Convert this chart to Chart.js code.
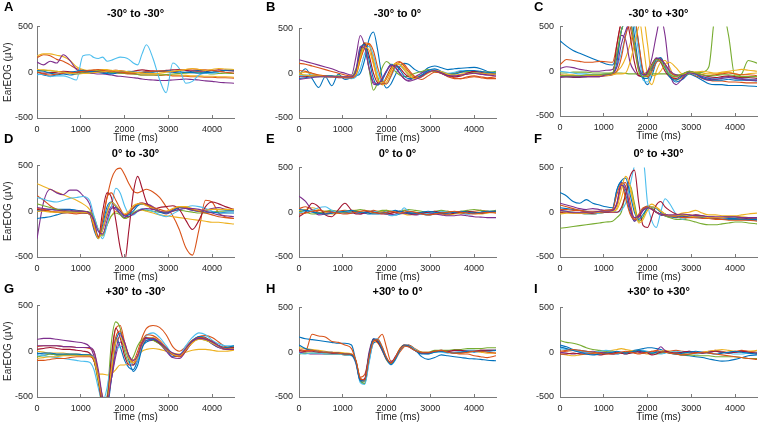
<!DOCTYPE html>
<html><head><meta charset="utf-8">
<script src="https://cdn.jsdelivr.net/npm/chart.js@4/dist/chart.umd.min.js"></script>
<style>
body{margin:0;background:#fff;}
#wrap{position:relative;width:758px;height:428px;overflow:hidden;font-family:'Liberation Sans',Arial,sans-serif;background:#fff;}
#wrap canvas{position:absolute;}
.ttl{position:absolute;font-weight:bold;font-size:11px;color:#000;white-space:nowrap;transform:translate(-50%,-50%);}
.lt{position:absolute;font-weight:bold;font-size:13px;color:#000;transform:translateY(-50%);}
</style></head><body><div id="wrap"></div>
<script>
// ---- data ----
const TIME = [0,150,300,450,600,750,900,1050,1200, 1300,1400,1500,1600,1700,1800,1900,2000,2100,2200,2300,2400,2500, 2650,2800,2950,3100,3250,3400,3550,3700,3850,4000,4150,4300,4500];
const X_TICKS = [0,1000,2000,3000,4000];
const Y_TICKS = [-500,0,500];
const TITLES = ['-30° to -30°','-30° to 0°','-30° to +30°','0° to -30°','0° to 0°','0° to +30°','+30° to -30°','+30° to 0°','+30° to +30°'];
const LETTERS = ['A','B','C','D','E','F','G','H','I'];
const X_LABEL = 'Time (ms)';
const Y_LABEL = 'EarEOG (µV)';

const panelA = [
 [-20,-30,-45,-30,-20,-30,-20,-10,0, 0,10,5,0,-10,-5,0,5,0,-10,-5,0,5, 0,10,5,0,-10,0,10,20,10,0,5,20,15],
 [160,190,180,140,120,80,40,20,10, 10,15,20,10,0,-5,-10,-15,-20,-20,-25,-30,-30, -30,-35,-30,-40,-40,-45,-50,-50,-55,-55,-60,-60,-65],
 [180,200,200,185,170,130,60,30,20, 20,25,30,30,20,15,10,5,0,0,-5,-10,-10, -15,-20,-25,-30,-30,-35,-40,-40,-45,-45,-50,-50,-55],
 [110,80,120,100,190,130,30,0,-10, -15,-20,-20,-25,-30,-40,-45,-50,-55,-60,-65,-75,-80, -85,-90,-90,-85,-80,-75,-80,-85,-95,-100,-110,-115,-120],
 [10,20,15,10,0,-10,-5,0,5, 10,15,10,5,0,-5,-10,-10,-15,-20,-25,-30,-30, -30,-30,-25,-20,-15,-10,-5,0,-10,-20,-15,-10,-15],
 [-30,-20,-50,-40,-40,-60,-85,180,190, 160,150,165,120,130,150,165,160,140,100,80,200,300, 150,-80,-225,100,40,-120,-100,-30,-10,-10,0,20,20],
 [0,-10,-5,0,10,5,0,10,15, 10,5,0,10,15,20,15,10,5,10,20,25,20, 15,10,20,25,30,20,15,10,15,20,25,20,15],
 [20,10,-10,-20,-10,0,10,20,10, 5,0,-10,-15,-20,-10,0,5,10,5,0,-5,0, 5,10,15,10,5,0,-5,-10,-5,0,10,20,25],
 [0,-20,-30,-20,-10,-5,0,10,20, 25,30,20,15,10,5,0,-5,-10,-10,-5,0,5, 10,15,10,5,20,30,35,30,25,20,10,0,-10],
 [30,25,20,10,0,-10,-20,-15,-10, -5,0,5,10,15,20,15,10,5,0,-5,-10,-15, -20,-10,0,10,20,30,40,30,20,30,40,35,30]
];
const panelB = [
 [-20,50,-60,-160,-40,-140,-10,-70,-50, -30,0,150,380,460,250,-50,-165,-120,-20,70,110,100, 40,10,60,80,60,40,50,55,60,65,50,20,0],
 [110,100,80,60,40,20,0,-20,-30, 0,200,340,320,120,-80,-120,-60,30,110,130,80,20, -50,-40,20,40,0,-30,-50,-60,-40,-30,-40,-50,-40],
 [0,10,-10,-20,-30,-30,-40,-40,-40, -20,150,300,330,150,-50,-130,-100,0,80,100,60,0, -40,-20,10,30,10,-10,-20,-10,0,10,20,10,0],
 [150,130,110,90,70,50,20,0,-20, 180,420,300,50,-120,-130,-60,20,80,60,0,-60,-80, -40,0,30,20,0,-20,0,20,10,0,-10,-20,-10],
 [-20,-30,-30,-40,-40,-40,-30,-40,-40, 50,200,340,50,-190,-100,60,130,90,20,-20,-40,-30, 0,20,40,20,0,-10,0,10,20,10,0,10,20],
 [-30,-20,-20,-30,-40,-40,-40,-50,-60, -40,50,220,300,200,0,-100,-120,-40,60,80,40,-20, -60,-30,20,40,20,0,10,30,30,20,10,0,10],
 [-40,-40,-30,-30,-40,-40,-50,-50,-50, 0,250,330,200,0,-110,-120,-40,60,90,60,0,-40, -50,-30,10,30,10,-20,-40,-30,0,20,10,-10,0],
 [-60,-50,-40,-40,-30,-30,-40,-40,-40, 20,280,320,150,-60,-130,-80,20,100,90,40,-30,-60, -60,-20,30,50,20,-10,-10,10,30,30,20,10,0],
 [30,20,0,-20,-30,-40,-40,-50,-50, -20,150,280,330,250,60,-90,-120,-30,80,120,100,40, -40,-70,-30,10,0,-40,-60,-60,-50,-40,-50,-60,-60],
 [-10,-20,-30,-30,-40,-40,-40,-40,-40, -10,180,290,260,100,-80,-110,-50,40,110,100,40,-20, -60,-40,0,30,20,-10,-20,-20,-10,0,0,-10,-10],
 [-70,-60,-50,-40,-40,-40,-40,-40,-40, 30,300,280,60,-100,-120,-60,30,90,70,0,-60,-90, -70,-40,10,30,0,-30,-30,-20,-10,0,-10,-20,-30]
];
const panelC = [
 [340,280,230,200,170,140,110,80,70, 200,450,600,700,600,300,-50,-150,-50,100,150,60,-50, -120,-90,-30,-60,-100,-140,-150,-150,-160,-160,-160,-165,-170],
 [70,130,120,110,100,100,110,105,100, 300,550,650,500,250,0,-60,-50,40,130,140,60,-40, -90,-70,-20,-50,-80,-100,-110,-110,-120,-120,-125,-130,-130],
 [-60,-60,-60,-60,-60,-50,-40,-30,-20, 0,50,150,300,500,600,300,-50,-150,0,100,120,50, -100,-60,-20,-10,-20,-30,-30,-20,-10,-30,-40,-30,-20],
 [30,50,40,20,10,0,0,10,20, 150,400,350,100,0,-50,-30,0,150,400,600,400,0, -150,-80,0,-30,-80,-100,-90,-70,-60,-70,-80,-90,-100],
 [-20,-20,-10,-10,-10,-20,-20,-20,-20, -20,-20,-25,-30,-30,-30,-30,-30,-30,-30,-30,-30,-30, -40,-40,-30,-20,-10,50,650,700,400,-60,-30,120,90],
 [0,-10,-20,-30,-30,-40,-40,-30,-30, 50,200,400,600,500,200,-100,-120,0,100,120,50,-30, -60,-40,-20,-40,-60,-70,-80,-80,-70,-80,-90,-90,-90],
 [-60,-60,-70,-70,-60,-60,-60,-50,-40, 300,550,600,400,100,-50,-60,-20,80,140,100,0,-60, -80,-40,-10,-20,-40,-60,-70,-60,-50,-60,-70,-70,-80],
 [-50,-60,-60,-60,-60,-50,-50,-40,-30, 100,450,550,650,400,50,-80,-80,20,130,150,40,-60, -100,-50,-10,-30,-70,-90,-100,-100,-90,-100,-100,-100,-110],
 [-40,-50,-50,-50,-50,-50,-50,-40,-30, 0,150,400,550,600,300,0,-60,0,100,120,80,0, -50,-30,0,-20,-40,-50,-40,-30,-20,-30,-40,-40,-50],
 [-50,-40,-40,-50,-50,-50,-50,-50,-40, -30,-30,-20,100,300,500,600,300,-50,-40,0,80,100, 40,-30,-20,-10,0,-10,-20,-10,0,10,20,10,0],
 [-70,-60,-60,-60,-60,-60,-60,-40,-20, 50,300,450,550,300,50,-40,-30,60,150,130,80,10, -40,-50,-20,-30,-60,-80,-90,-80,-70,-80,-90,-100,-100],
 [-50,-50,-50,-50,-40,-40,-40,-30,-20, 200,450,550,550,300,0,-60,-40,60,130,110,30,-40, -60,-30,0,-20,-40,-50,-50,-40,-40,-50,-60,-60,-60]
];
const panelD = [
 [10,10,20,20,20,20,10,0,-20, -100,-280,-200,0,100,50,-30,-70,-30,30,70,80,70, 40,0,-20,10,40,30,10,0,10,20,20,10,10],
 [170,120,60,20,0,-20,-30,-20,-30, -150,-280,-100,150,350,450,470,400,300,220,200,220,240, 210,150,50,-50,-200,-400,-480,-200,120,100,-20,-60,-80],
 [300,270,240,210,180,150,120,80,20, -80,-200,-250,-150,-50,0,-30,-80,-60,-20,0,10,0, -20,-40,-50,-60,-70,-80,-90,-100,-110,-120,-120,-130,-140],
 [-300,100,240,200,180,230,230,170,80, -100,-280,-200,-50,50,20,-30,-70,-20,40,80,90,80, 50,0,-30,0,40,30,10,0,10,30,40,20,10],
 [80,60,40,20,10,0,0,0,-10, -60,-200,-270,-150,-50,-20,-40,-80,-60,-20,10,20,10, 0,-10,-10,0,10,0,-10,-20,-20,-10,0,0,0],
 [150,130,110,100,120,140,150,160,120, -50,-200,-300,-150,50,250,200,60,-30,-40,0,30,20, 0,-40,-60,-30,10,40,60,50,30,0,-20,-10,0],
 [20,10,0,-10,-10,-10,0,0,-20, -150,-290,0,200,150,-100,-400,-550,-200,200,380,250,100, 20,40,50,60,20,-100,-200,-100,50,100,80,50,20],
 [-80,-70,-60,-40,-20,-10,-10,-20,-30, -200,-300,-150,50,100,60,0,-50,-40,0,60,80,70, 30,-10,-20,10,40,40,20,0,-10,-10,-20,-20,-20],
 [30,20,0,-10,-20,-20,-20,-20,-30, -180,-290,-100,150,200,120,30,-40,-20,40,80,90,70, 40,20,0,20,50,40,20,0,-20,-40,-60,-70,-80],
 [0,0,-10,-10,-10,-10,-10,-10,-20, -150,-300,-200,-20,100,60,10,-30,0,60,80,80,60, 30,0,0,30,50,50,30,10,10,20,20,20,20],
 [40,30,20,10,10,10,0,0,-20, -100,-220,-250,-100,30,40,0,-50,-60,-30,0,20,30, 20,0,-10,0,20,30,30,20,0,-20,-40,-50,-60]
];
const panelE = [
 [0,20,10,-10,0,10,0,-10,0, 10,0,-10,-20,-10,0,10,0,-20,-30,-20,-10,0, -10,-20,-30,-20,-10,0,0,-10,-20,-10,0,10,0],
 [40,60,30,0,-20,-10,10,20,10, 0,-10,0,10,20,10,0,-10,-10,0,10,20,10, 0,-10,-20,-10,0,10,0,-10,0,10,20,10,0],
 [20,30,50,30,0,-20,-10,10,20, 20,10,0,-10,-10,0,10,20,10,0,-10,-20,-30, -20,-10,0,-10,-20,-30,-20,-10,0,-10,-20,-10,0],
 [180,120,20,-30,-20,0,10,0,-10, -10,-20,-10,0,10,0,-10,-20,-30,-20,-10,-10,-20, -30,-20,-10,-20,-30,-40,-40,-30,-40,-50,-55,-60,-60],
 [10,0,-20,-10,10,20,10,0,10, 20,30,20,10,0,10,20,20,10,0,10,20,30, 20,10,0,10,20,10,0,10,20,30,20,10,20],
 [-10,10,20,50,60,20,0,10,0, -10,-10,0,10,10,0,-10,-20,-40,-30,-10,50,10, -10,-20,-10,0,10,0,-10,0,10,0,-10,0,10],
 [-50,0,100,60,-30,-50,30,100,20, -20,-20,0,10,0,-10,-20,-20,-10,0,10,0,-10, -20,-10,0,10,-10,-20,-10,0,10,0,-10,0,10],
 [30,20,0,-10,-20,-10,0,10,20, 10,0,0,-10,-20,-20,-10,0,10,20,10,0,-10, -10,0,10,0,-10,-10,0,10,0,-10,0,10,10],
 [-20,-10,10,20,10,0,-10,-20,-10, 0,10,20,10,0,-10,-10,0,10,0,-10,0,10, 0,-20,-30,-20,-10,0,10,0,-10,-20,-10,0,-10]
];
const panelF = [
 [50,40,30,20,10,0,10,20,30, 250,340,200,0,-100,-40,40,70,40,0,-30,-40,-50, -60,-40,-50,-60,-60,-70,-70,-80,-80,-80,-80,-90,-90],
 [80,60,40,20,0,-20,-10,0,20, 80,300,330,120,-80,-60,30,70,40,0,-20,-30,-40, -40,-30,-30,-40,-50,-50,-60,-60,-60,-70,-70,-80,-80],
 [0,10,0,-10,-20,-20,-10,0,10, 30,150,300,250,50,-100,-50,50,90,60,20,-20,-40, -30,-10,0,20,-10,-30,-30,-40,-40,-40,-30,-20,-10],
 [100,80,60,40,30,40,30,20,20, 100,330,280,50,-100,-50,20,60,40,0,-30,-40,-50, -50,-50,-40,-40,-50,-50,-60,-60,-60,-60,-60,-70,-70],
 [-180,-170,-160,-150,-140,-130,-120,-110,-100, -60,0,200,300,100,-100,-50,60,50,0,-20,-40,-60, -80,-80,-90,-110,-130,-140,-140,-130,-120,-110,-110,-120,-130],
 [20,10,0,-10,-20,-20,-10,0,10, 0,20,100,300,520,650,600,100,-100,-170,0,150,100, -20,-80,-50,-30,-40,-50,-60,-60,-50,-60,-60,-60,-60],
 [0,0,-10,-10,-10,-10,0,0,0, 0,50,200,400,470,100,-150,-170,-50,80,120,60,20, -20,-40,-40,-30,-40,-60,-70,-60,-50,-50,-60,-70,-60],
 [220,180,120,100,140,100,80,60,50, 250,350,380,200,0,-80,-20,40,60,40,0,-20,-40, -50,-40,-40,-50,-50,-60,-60,-60,-70,-70,-80,-80,-80],
 [30,30,20,20,10,10,10,20,30, 200,320,150,-20,-80,-20,50,60,30,0,-20,-30,-40, -50,-60,-60,-60,-70,-70,-80,-80,-90,-90,-90,-90,-100],
 [-20,-10,-10,-10,-10,0,0,10,10, 50,250,400,300,50,-120,-80,20,60,50,10,-20,-40, -40,-30,-40,-50,-50,-60,-60,-60,-50,-50,-50,-60,-60],
 [20,10,0,0,0,0,10,10,20, 100,300,250,50,-60,-40,20,50,30,0,-20,-30,-30, -30,-20,-30,-40,-40,-50,-50,-50,-50,-50,-60,-60,-60]
];
const panelG = [
 [-20,-30,-30,-40,-40,-40,-40,-50,-50, -100,-300,-550,-600,-200,150,50,-100,-180,-200,-100,50,100, 120,80,20,-60,-50,30,120,150,130,80,40,30,50],
 [50,60,60,60,50,50,40,40,30, 0,-250,-500,-550,-100,250,280,100,-50,-100,0,150,250, 280,260,180,50,0,50,120,160,170,150,100,50,40],
 [0,-10,-20,-20,-20,-30,-30,-40,-40, -100,-250,-250,-260,-250,-200,-150,-150,-130,-100,-50,0,20, 30,20,0,-20,-30,-10,10,20,20,10,0,0,10],
 [130,140,140,130,120,110,100,90,50, -50,-300,-550,-500,-300,-50,100,50,-50,-150,-100,50,120, 120,80,0,-70,-80,0,100,150,130,80,40,20,30],
 [-60,-50,-30,-40,-40,-40,-40,-40,-50, -100,-350,-600,-500,100,320,250,0,-120,-60,60,130,150, 120,80,20,-30,-40,20,100,130,120,90,60,40,50],
 [-40,-50,-60,-70,-80,-90,-100,-110,-120, -200,-400,-550,-400,-100,0,50,50,-50,-150,-100,80,170, 200,150,60,-30,-40,60,150,200,180,120,80,60,60],
 [20,30,40,30,20,20,10,0,-20, -100,-300,-600,-550,-50,250,150,-50,-150,-150,-50,100,150, 130,90,30,-40,-60,10,100,150,140,110,60,30,40],
 [-30,-20,-20,-30,-30,-30,-30,-40,-40, -80,-300,-550,-600,-300,100,200,50,-100,-220,-150,30,120, 130,100,40,-30,-50,20,110,160,150,100,60,40,60],
 [-100,-100,-90,-80,-80,-70,-60,-60,-60, -100,-300,-550,-550,-250,150,220,80,-60,-120,-50,100,180, 170,120,40,-40,-60,10,100,150,140,100,60,30,20],
 [-80,-70,-60,-60,-50,-50,-50,-50,-50, -80,-300,-500,-550,-200,100,150,50,-80,-130,-60,70,140, 150,110,30,-30,-50,20,90,130,120,90,50,20,30],
 [60,60,60,60,50,50,40,40,40, 0,-200,-500,-550,-300,0,180,100,-50,-100,-50,80,140, 140,100,30,-20,-40,30,110,140,130,100,60,20,20]
];
const panelH = [
 [170,150,140,130,120,110,100,100,80, -100,-300,-350,-100,100,120,50,-80,-120,-60,20,70,80, 30,-50,-80,-60,-30,-40,-50,-60,-70,-75,-80,-90,-95],
 [0,10,200,180,170,120,110,80,40, -100,-280,-250,-50,120,150,200,50,-100,-80,0,60,80, 40,0,-10,10,20,0,-10,-20,-20,-40,-50,-60,-40],
 [50,40,30,20,10,0,0,-10,-20, -100,-300,-330,-50,130,100,20,-90,-130,-60,40,80,70, 30,0,-10,0,10,0,-10,-10,0,10,0,-10,-10],
 [0,-10,-20,-20,-20,-20,-20,-30,-30, -120,-320,-300,0,150,120,20,-80,-110,-50,30,70,60, 20,-10,-10,10,20,10,0,0,10,10,20,20,20],
 [-20,-10,-10,-10,-20,-20,-20,-30,-30, -100,-320,-350,-50,140,130,40,-70,-130,-70,30,70,70, 30,0,0,20,20,20,30,30,40,40,40,50,50],
 [-10,-20,-10,-10,-20,-20,-20,-30,-40, -130,-340,-360,-120,120,150,60,-60,-140,-90,20,70,70, 30,-10,-20,0,0,-10,0,10,20,20,10,20,20],
 [20,10,10,0,0,-10,-10,-20,-30, -110,-310,-300,-30,140,110,30,-70,-120,-60,30,80,70, 20,-10,-10,10,10,10,20,20,10,10,20,20,20],
 [80,40,20,10,0,0,-10,-20,-30, -110,-320,-320,-40,150,130,30,-80,-140,-80,20,80,70, 20,-20,-20,0,10,0,-10,0,10,0,10,10,20],
 [30,20,20,10,0,0,-10,-20,-20, -90,-290,-310,-60,120,140,60,-60,-120,-60,30,70,60, 20,0,0,10,20,0,-10,-10,0,10,10,0,-10]
];
const panelI = [
 [80,60,30,20,10,0,-10,-10,-20, -20,-10,0,10,20,30,40,50,50,40,30,10,0, -20,-30,-40,-50,-60,-75,-90,-100,-95,-80,-60,-40,-30],
 [0,10,20,10,0,-10,-10,0,10, 0,-10,0,10,0,-10,-10,0,10,0,-10,0,10, 20,10,0,-10,0,10,20,10,0,10,20,10,0],
 [-20,-30,-40,-30,-20,-10,0,10,20, 30,40,30,20,10,0,-10,-20,-10,0,10,20,10, 0,-10,-20,-10,0,10,20,30,20,10,0,10,20],
 [0,-10,-20,-10,0,10,0,-10,-20, -10,0,-10,0,10,0,-10,0,-20,10,60,20,0, -10,0,10,0,-10,0,10,0,-10,0,10,0,-10],
 [130,110,100,80,50,30,20,10,0, 0,-10,-10,0,10,20,10,0,-10,-20,-10,0,-10, -20,-30,-30,-40,-40,-40,-50,-50,-50,-50,-60,-70,-70],
 [40,30,20,10,0,0,10,20,10, 0,-10,-20,-10,0,10,20,10,0,-10,-20,-10,0, 10,0,-10,-20,-10,0,10,0,-10,-20,-20,-10,0],
 [-20,-20,-10,-20,-20,-20,-30,-20,-10, 0,-10,-20,-10,0,10,0,-10,-30,-20,0,10,0, -10,0,10,0,-10,0,10,0,-10,0,10,0,-10],
 [60,40,20,0,-20,-30,-20,-10,0, 10,0,-10,0,10,20,10,0,-10,0,10,0,-10, -20,-10,0,10,0,-10,-20,-10,0,10,0,-10,-20],
 [10,20,30,20,10,0,-10,-20,-20, -10,0,10,0,-10,-20,-10,0,10,20,10,0,-10, -20,-30,-20,-10,0,-10,-20,-30,-40,-50,-60,-70,-80]
];
const PANELS = [panelA,panelB,panelC,panelD,panelE,panelF,panelG,panelH,panelI];
const COLORS = ['#0072BD','#D95319','#EDB120','#7E2F8E','#77AC30','#4DBEEE','#A2142F'];

// ---- layout ----
const COL_LEFT = [37, 299, 560];
const ROW_TOP = [22, 161, 301];
const PANEL_SHIFT = [0,0,-2, 0,0,0, 0,0,0];
const PLOT_W = 197, PLOT_H = 96, PAD_T = 8, X_H = 28;
const TITLE_Y = [13, 153, 291];
const LETTER_X = [4, 266, 534];
const LETTER_Y = [6, 138, 288];
const FONT = "'Liberation Sans', Arial, sans-serif";
const AX = '#7a7a7a', TXT = '#262626';

const wrap = document.getElementById('wrap');
PANELS.forEach((series, p) => {
  const r = Math.floor(p / 3), c = p % 3;
  const wy = c === 0 ? 37 : 30;
  const cv = document.createElement('canvas');
  const w = wy + PLOT_W + 1, h = PAD_T + PLOT_H + X_H;
  cv.width = w; cv.height = h;
  cv.style.left = (COL_LEFT[c] - wy) + 'px';
  cv.style.top = (ROW_TOP[r] + PANEL_SHIFT[p] - PAD_T) + 'px';
  cv.style.width = w + 'px'; cv.style.height = h + 'px';
  wrap.appendChild(cv);

  const t = document.createElement('div');
  t.className = 'ttl'; t.textContent = TITLES[p];
  t.style.left = (COL_LEFT[c] + PLOT_W / 2) + 'px'; t.style.top = TITLE_Y[r] + 'px';
  wrap.appendChild(t);
  const l = document.createElement('div');
  l.className = 'lt'; l.textContent = LETTERS[p];
  l.style.left = LETTER_X[c] + 'px'; l.style.top = LETTER_Y[r] + 'px';
  wrap.appendChild(l);

  new Chart(cv, {
    type: 'line',
    data: {
      datasets: series.map((vals, i) => ({
        data: vals.map((v, k) => ({x: TIME[k], y: v})),
        borderColor: COLORS[i % COLORS.length],
        borderWidth: 1.1, pointRadius: 0, fill: false,
        cubicInterpolationMode: 'monotone',
        order: series.length - i
      }))
    },
    options: {
      responsive: false, animation: false, events: [],
      layout: {padding: {top: PAD_T, right: 1, bottom: 0, left: 0}},
      plugins: {legend: {display: false}, tooltip: {enabled: false}, title: {display: false}},
      scales: {
        x: {
          type: 'linear', min: 0, max: 4500,
          afterBuildTicks: s => { s.ticks = X_TICKS.map(v => ({value: v})); },
          afterFit: s => { s.height = X_H; },
          grid: {drawOnChartArea: false, drawTicks: true, tickLength: -3, color: AX},
          border: {display: true, color: AX, width: 1},
          ticks: {padding: 9, maxRotation: 0, autoSkip: false, color: TXT, font: {family: FONT, size: 9}, callback: v => String(v)},
          title: {display: true, text: X_LABEL, color: TXT, font: {family: FONT, size: 10}, padding: {top: 0, bottom: 2}}
        },
        y: {
          type: 'linear', min: -500, max: 500,
          afterBuildTicks: s => { s.ticks = Y_TICKS.map(v => ({value: v})); },
          afterFit: s => { s.width = wy; },
          grid: {drawOnChartArea: false, drawTicks: true, tickLength: -3, color: AX},
          border: {display: true, color: AX, width: 1},
          ticks: {padding: c === 0 ? 7 : 9, autoSkip: false, color: TXT, font: {family: FONT, size: 9}, callback: v => String(v)},
          title: {display: c === 0, text: Y_LABEL, color: TXT, font: {family: FONT, size: 10}, padding: {top: 2, bottom: 0}}
        }
      }
    }
  });
});
</script>
</body></html>
